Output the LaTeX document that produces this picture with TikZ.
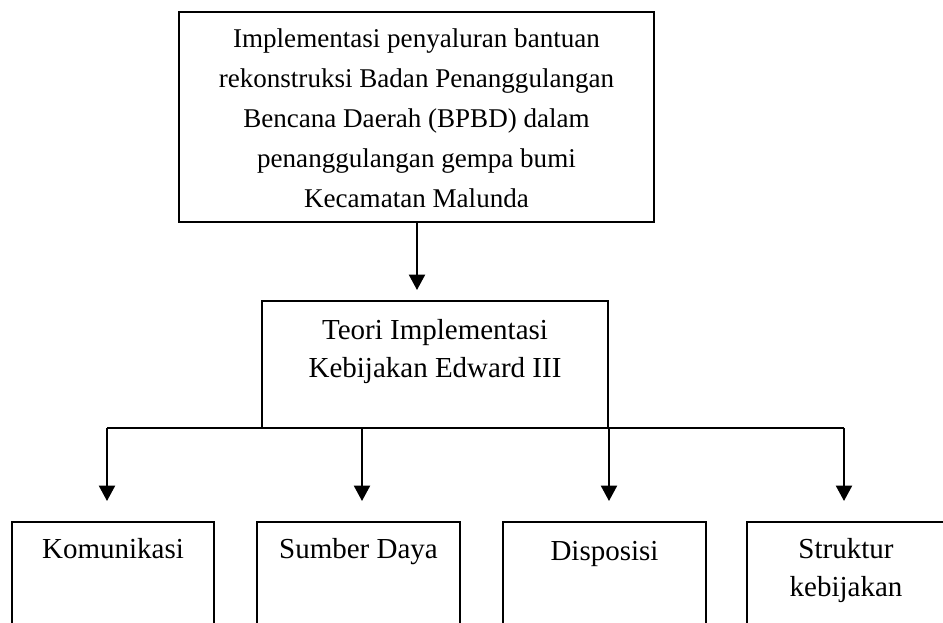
\documentclass[tikz,border=0pt]{standalone}
\usepackage{fontspec}
\setmainfont{Liberation Serif}
\usetikzlibrary{arrows.meta}
\tikzset{
  box/.style={draw, line width=1pt, inner sep=0pt},
  toptxt/.style={align=center, inner sep=0pt, font=\fontsize{20.3pt}{30pt}\selectfont},
  txt/.style={align=center, inner sep=0pt, font=\fontsize{21.75pt}{28.5pt}\selectfont},
  arr/.style={line width=1.5pt, -{Triangle[width=12pt,length=11.5pt]}},
  hline/.style={line width=1pt}
}
\begin{document}
\begin{tikzpicture}[x=0.75pt,y=-0.75pt]
\useasboundingbox (0,0) rectangle (943,623);
\clip (0,0) rectangle (943,623);
% boxes
\node[box, minimum width=356.25pt, minimum height=157.5pt] (top) at (416.5,117) {};
\node[box, minimum width=259.5pt, minimum height=95.25pt] (mid) at (435,364.5) {};
\node[box, minimum width=151.5pt, minimum height=88.5pt] (k1) at (113,581) {};
\node[box, minimum width=152.25pt, minimum height=88.5pt] (k2) at (358.5,581) {};
\node[box, minimum width=152.25pt, minimum height=88.5pt] (k3) at (604.5,581) {};
\node[box, minimum width=148.5pt, minimum height=88.5pt] (k4) at (846,581) {};
% texts
\node[toptxt] (toptext) at (416.5,118) {Implementasi penyaluran bantuan\\rekonstruksi Badan Penanggulangan\\Bencana Daerah (BPBD) dalam\\penanggulangan gempa bumi\\Kecamatan Malunda};
\node[txt] (midtext) at (435,352) {Teori Implementasi\\Kebijakan Edward III};
\node[txt, anchor=base] (t1) at (113,558) {Komunikasi};
\node[txt, anchor=base] (t2) at (358.5,558) {Sumber Daya};
\node[txt, anchor=base] (t3) at (604.5,561) {Disposisi};
\node[txt] (t4) at (846,571) {Struktur\\kebijakan};
% connectors
\coordinate (e0) at (417,290);
\draw[arr] (top.south -| e0) -- (e0);
\coordinate (b1) at (107,428);
\coordinate (b2) at (362,428);
\coordinate (b3) at (609,428);
\coordinate (b4) at (844,428);
\coordinate (e1) at (107,501);
\coordinate (e2) at (362,501);
\coordinate (e3) at (609,501);
\coordinate (e4) at (844,501);
\draw[hline] (b1) -- (b4);
\draw[arr] (b1) -- (e1);
\draw[arr] (b2) -- (e2);
\draw[arr] (b3) -- (e3);
\draw[arr] (b4) -- (e4);
\end{tikzpicture}
\end{document}
